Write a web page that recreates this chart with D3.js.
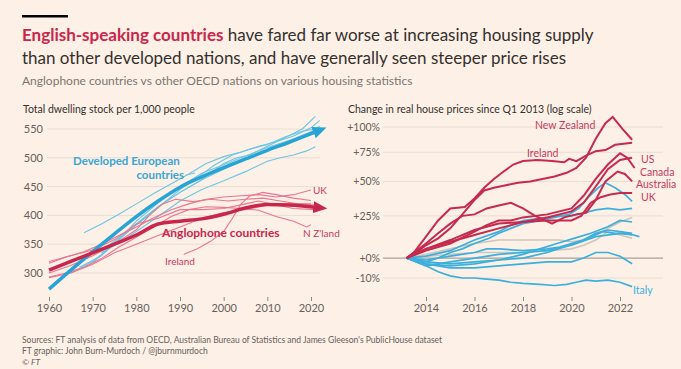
<!DOCTYPE html>
<html><head><meta charset="utf-8">
<script src="https://cdn.jsdelivr.net/npm/d3@7"></script>
<style>
html,body{margin:0;padding:0;background:#FDF0E6;}
svg{display:block;font-family:Lato,"Open Sans",sans-serif;}
</style></head>
<body><svg id="c" width="681" height="369"></svg>
<script>
// ---------- DATA ----------
const leftYTicks = [300, 350, 400, 450, 500, 550];
const leftXTicks = [1960, 1970, 1980, 1990, 2000, 2010, 2020];
const rightYTicks = [-10, 0, 25, 50, 75, 100];
const rightYTickLabels = ["-10%", "+0%", "+25%", "+50%", "+75%", "+100%"];
const rightXTicks = [2014, 2016, 2018, 2020, 2022];

// Left: dwelling stock per 1,000 people [year, value]
const europeTrend = [[1960,272],[1965,305],[1970,337],[1975,368],[1980,398],[1985,425],[1990,449],[1995,467],[2000,483],[2005,498],[2010,513],[2015,527],[2021,545]];
const anglTrend = [[1960,305],[1965,320],[1970,335],[1975,350],[1980,366],[1985,385],[1990,390],[1995,394],[2000,402],[2005,413],[2010,419],[2015,418],[2021,414]];
const europeCountries = [
  [[1968,370],[1972,385],[1976,402],[1980,420],[1984,438],[1988,455],[1992,472],[1996,490],[2000,502],[2004,510],[2008,520],[2012,528],[2016,538],[2020,552],[2022,565]],
  [[1965,300],[1970,320],[1975,350],[1980,385],[1985,415],[1990,440],[1995,462],[2000,490],[2003,500],[2006,505],[2010,520],[2014,535],[2018,550],[2021,572]],
  [[1972,335],[1976,352],[1980,372],[1985,398],[1990,425],[1995,445],[2000,460],[2005,476],[2010,494],[2013,500],[2016,505],[2019,512],[2021,519]],
  [[1970,318],[1975,352],[1980,385],[1985,415],[1990,440],[1995,462],[2000,480],[2005,497],[2010,513],[2015,527],[2020,540],[2022,548]],
  [[1974,350],[1978,372],[1982,395],[1986,420],[1990,445],[1994,466],[1998,488],[2002,505],[2006,515],[2010,523],[2014,536],[2018,546],[2021,550]],
  [[1967,310],[1972,330],[1976,358],[1980,390],[1985,422],[1990,450],[1995,473],[2000,488],[2005,503],[2010,518],[2015,530],[2020,545],[2022,555]]
];
const anglCountries = [
  [[1960,317],[1964,328],[1968,337],[1972,350],[1976,365],[1980,380],[1984,396],[1988,410],[1992,420],[1996,428],[2000,432],[2004,434],[2008,436],[2012,432],[2016,436],[2020,444]],
  [[1960,293],[1964,300],[1968,310],[1972,325],[1976,345],[1980,362],[1984,380],[1988,398],[1992,410],[1996,415],[2000,414],[2004,412],[2008,409],[2012,398],[2016,390],[2019,380],[2020,384]],
  [[1991,333],[1994,342],[1997,355],[2000,372],[2002,395],[2004,420],[2006,434],[2009,440],[2012,436],[2016,430],[2020,426]],
  [[1960,300],[1965,313],[1970,330],[1975,350],[1980,375],[1983,400],[1986,420],[1989,428],[1993,424],[1997,428],[2001,425],[2005,428],[2009,430],[2013,425],[2017,420],[2021,418]],
  [[1960,292],[1965,300],[1970,315],[1975,335],[1980,350],[1985,365],[1990,380],[1995,395],[2000,405],[2005,410],[2010,418],[2015,420],[2020,420]],
  [[1960,320],[1965,330],[1970,340],[1975,358],[1980,385],[1985,395],[1990,410],[1995,410],[2000,412],[2005,420],[2008,425],[2012,418],[2016,412],[2021,410]]
];

// Right: change in real house prices since Q1 2013, % [year, pct]
const newZealand = [[2013.2,0],[2013.6,3],[2014,7],[2014.5,11],[2015,17],[2015.5,26],[2016,36],[2016.4,43],[2016.8,45],[2017.3,47],[2017.8,49],[2018.3,50],[2018.8,52],[2019.3,54],[2019.8,57],[2020.2,61],[2020.6,70],[2021,88],[2021.4,104],[2021.7,111],[2022.1,98],[2022.5,87]];
const ireland = [[2013.2,0],[2013.5,3],[2014,12],[2014.5,22],[2015,30],[2015.6,31],[2016,37],[2016.4,45],[2016.8,52],[2017.2,58],[2017.6,64],[2018,67],[2018.6,68],[2019.2,67],[2019.7,66],[2019.9,69],[2020.2,67],[2020.6,72],[2021,76],[2021.4,77],[2021.8,82],[2022.5,84]];
const us = [[2013.2,0],[2014,5],[2015,9],[2016,13],[2017,17],[2018,21],[2019,24],[2020,28],[2020.5,34],[2021,46],[2021.5,60],[2022,68],[2022.5,70]];
const canada = [[2013.2,0],[2014,4],[2015,8],[2016,15],[2016.5,19],[2017,22],[2017.5,22],[2018,24],[2019,26],[2020,30],[2020.5,39],[2021,52],[2021.5,64],[2022,74],[2022.3,70],[2022.6,61]];
const australia = [[2013.2,0],[2014,8],[2014.5,14],[2015,20],[2015.5,25],[2016,26],[2016.5,30],[2017,32],[2017.5,34],[2018,30],[2018.5,25],[2019.2,20],[2019.7,24],[2020.2,26],[2020.6,27],[2021,36],[2021.4,50],[2021.9,58],[2022.2,56],[2022.5,50]];
const uk = [[2013.2,0],[2014,5],[2015,10],[2016,16],[2016.5,18],[2017,20],[2018,21],[2019,22],[2020,22],[2020.4,25],[2020.8,34],[2021.2,38],[2021.6,40],[2022,41],[2022.5,41]];
const europePrices = [
  [[2013.2,0],[2014,-2],[2014.5,0],[2015,3],[2015.5,5],[2016,8],[2016.6,11],[2017,14],[2017.5,17],[2018,20],[2018.7,22],[2019.3,24],[2019.9,26],[2020.3,30],[2020.7,38],[2021.1,45],[2021.4,49],[2021.8,45],[2022.2,40],[2022.5,35]],
  [[2013.2,0],[2014,1],[2015,4],[2016,10],[2017,15],[2017.5,19],[2018,22],[2019,24],[2019.5,25],[2020,25],[2020.5,27],[2021,29],[2021.5,30],[2022,29],[2022.5,30]],
  [[2013.2,0],[2014,-3],[2015,-4],[2016,-3],[2017,-1],[2018,2],[2018.7,5],[2019.4,8],[2020.1,11],[2020.8,14],[2021.5,18],[2022,22],[2022.5,21]],
  [[2013.2,0],[2014,-2],[2015,-3],[2016,-2],[2017,-1],[2018,0],[2019,3],[2019.7,6],[2020.3,9],[2020.8,12],[2021.3,15],[2021.8,14],[2022.3,14],[2022.8,12]],
  [[2013.2,0],[2014,-3],[2015,-5],[2016,-5],[2017,-4],[2018,-3],[2019,-2],[2020,-2],[2020.5,0],[2021,3],[2021.5,3],[2022,1],[2022.5,-3]],
  [[2013.2,0],[2014,-1],[2015,1],[2016,3],[2016.5,5],[2017,5],[2018,4],[2019,5],[2019.5,6],[2020,8],[2020.5,10],[2021,14],[2021.5,16],[2022,15],[2022.5,14]],
  [[2013.2,0],[2014,-4],[2015,-2],[2016,0],[2017,2],[2018,3],[2019,4],[2020,7],[2021,12],[2022,14],[2022.5,13]]
];
const italy = [[2013.2,0],[2013.6,-2],[2014,-4],[2014.5,-7],[2015,-9],[2015.5,-10],[2016,-10],[2016.5,-10.5],[2017,-11],[2017.5,-12],[2018,-12.5],[2018.7,-13],[2019.3,-13.5],[2019.8,-13],[2020.2,-12],[2020.6,-11],[2021,-11.5],[2021.5,-11],[2022,-12],[2022.5,-14]];
const otherPrices = [
  [[2013.2,0],[2014,2],[2015,5],[2016,8],[2016.5,9],[2017,10],[2018,10],[2019,10],[2019.5,10],[2020,9],[2020.5,10],[2021,13],[2021.5,17],[2022,21],[2022.5,24]],
  [[2013.2,0],[2014,1],[2015,2],[2016,3],[2017,3],[2018,3],[2019,4],[2020,5],[2020.5,7],[2021,10],[2021.5,15],[2022,13],[2022.5,11]]
];

// ---------- STYLE ----------
const C = {
  bg: "#FDF0E6", text: "#33302e", muted: "#66605c", grid: "#e8ddd3", zero: "#aaa29b",
  claret: "#c8264b", blueThick: "#27a4d6", blueThin: "#6cc6e6", redThin: "#e8768f",
  redLine: "#c52a4f", blueLine: "#3cb0dc", grayLine: "#cdc5be", redLabel: "#c73a5e"
};

const svg = d3.select("#c");
svg.append("rect").attr("width", 681).attr("height", 369).attr("fill", C.bg);

// header
svg.append("rect").attr("x", 22).attr("y", 15).attr("width", 46).attr("height", 2.5).attr("fill", "#000");
const t1 = svg.append("text").attr("x", 22).attr("y", 41).attr("font-size", 17).attr("fill", C.text);
t1.append("tspan").attr("font-weight", 700).attr("fill", C.claret).text("English-speaking countries");
t1.append("tspan").text(" have fared far worse at increasing housing supply");
svg.append("text").attr("x", 22).attr("y", 64).attr("font-size", 17).attr("fill", C.text)
  .text("than other developed nations, and have generally seen steeper price rises");
svg.append("text").attr("x", 22).attr("y", 85).attr("font-size", 12).attr("fill", "#7d7671")
  .text("Anglophone countries vs other OECD nations on various housing statistics");

// footer
const foot = ["Sources: FT analysis of data from OECD, Australian Bureau of Statistics and James Gleeson's PublicHouse dataset",
  "FT graphic: John Burn-Murdoch / @jburnmurdoch", "\u00A9 FT"];
foot.forEach((s, i) => svg.append("text").attr("x", 22).attr("y", 343 + i * 10.8)
  .attr("font-size", 8.5).attr("fill", C.muted).attr("font-style", i === 2 ? "italic" : null).text(s));

// ---------- LEFT CHART ----------
const xL = d3.scaleLinear().domain([1960, 2020]).range([49, 311]);
const yL = d3.scaleLinear().domain([300, 550]).range([273, 129]);
const gL = svg.append("g");
gL.append("text").attr("x", 23).attr("y", 113).attr("font-size", 10.5).attr("fill", C.text)
  .text("Total dwelling stock per 1,000 people");
gL.selectAll(".grid").data(leftYTicks).join("line")
  .attr("x1", 47).attr("x2", 320).attr("y1", d => yL(d)).attr("y2", d => yL(d))
  .attr("stroke", C.grid).attr("stroke-width", 1);
gL.selectAll(".yl").data(leftYTicks).join("text")
  .attr("x", 43).attr("y", d => yL(d) + 4).attr("text-anchor", "end")
  .attr("font-size", 11).attr("fill", C.muted).text(d => d);
const axL = d3.axisBottom(xL).tickValues(leftXTicks).tickFormat(d3.format("d")).tickSize(4).tickPadding(3);
const axLg = gL.append("g").attr("transform", "translate(0,297)").call(axL);
axLg.select(".domain").remove();
axLg.selectAll("line").attr("stroke", "#8f8882");
axLg.selectAll("text").attr("font-size", 11).attr("fill", C.muted).attr("font-family", "Lato");

const lineL = d3.line().x(d => xL(d[0])).y(d => yL(d[1]));
const smoothL = d3.line().x(d => xL(d[0])).y(d => yL(d[1])).curve(d3.curveMonotoneX);

const defs = svg.append("defs");
function marker(id, col) {
  defs.append("marker").attr("id", id).attr("markerUnits", "userSpaceOnUse")
    .attr("viewBox", "0 0 14 12").attr("refX", 2).attr("refY", 6)
    .attr("markerWidth", 14).attr("markerHeight", 12).attr("orient", "auto")
    .append("path").attr("d", "M0,0 L14,6 L0,12 Z").attr("fill", col);
}
marker("arrB", C.blueThick);
marker("arrR", C.claret);

gL.selectAll(".eu").data(europeCountries).join("path")
  .attr("d", lineL).attr("fill", "none").attr("stroke", C.blueThin).attr("stroke-width", 1.1);
gL.selectAll(".an").data(anglCountries).join("path")
  .attr("d", lineL).attr("fill", "none").attr("stroke", C.redThin).attr("stroke-width", 1.1);
gL.append("path").datum(europeTrend).attr("d", smoothL).attr("fill", "none")
  .attr("stroke", C.blueThick).attr("stroke-width", 3.5).attr("marker-end", "url(#arrB)");
gL.append("path").datum(anglTrend).attr("d", smoothL).attr("fill", "none")
  .attr("stroke", C.claret).attr("stroke-width", 3.5).attr("marker-end", "url(#arrR)");

// left labels
gL.append("text").attr("x", 73).attr("y", 165).attr("font-size", 11.5).attr("font-weight", 700)
  .attr("fill", "#3aa6d4").text("Developed European");
gL.append("text").attr("x", 184).attr("y", 179).attr("font-size", 11.5).attr("font-weight", 700)
  .attr("text-anchor", "end").attr("fill", "#3aa6d4").text("countries");
gL.append("line").attr("x1", 186).attr("y1", 175).attr("x2", 195).attr("y2", 173)
  .attr("stroke", C.blueThin).attr("stroke-width", 1);
gL.append("text").attr("x", 162).attr("y", 237).attr("font-size", 12).attr("font-weight", 700)
  .attr("fill", C.claret).text("Anglophone countries");
gL.append("text").attr("x", 165).attr("y", 265).attr("font-size", 10).attr("fill", C.redLabel).text("Ireland");
gL.append("line").attr("x1", 184).attr("y1", 255).attr("x2", xL(1991)).attr("y2", yL(333))
  .attr("stroke", C.redThin).attr("stroke-width", 1);
gL.append("text").attr("x", 303).attr("y", 237).attr("font-size", 10).attr("fill", C.redLabel).text("N Z'land");
gL.append("text").attr("x", 313).attr("y", 194).attr("font-size", 10).attr("fill", C.redLabel).text("UK");

// ---------- RIGHT CHART ----------
const xR = d3.scaleLinear().domain([2014, 2022]).range([426, 620]);
const yR = d3.scaleLog().domain([0.9, 2.0]).range([278, 127]);
const gR = svg.append("g");
gR.append("text").attr("x", 348).attr("y", 113).attr("font-size", 10.5).attr("fill", C.text)
  .text("Change in real house prices since Q1 2013 (log scale)");
gR.selectAll(".grid").data(rightYTicks).join("line")
  .attr("x1", 383).attr("x2", 663).attr("y1", d => yR(1 + d / 100)).attr("y2", d => yR(1 + d / 100))
  .attr("stroke", d => d === 0 ? C.zero : C.grid).attr("stroke-width", d => d === 0 ? 1.3 : 1);
gR.selectAll(".yl").data(rightYTicks).join("text")
  .attr("x", 380).attr("y", d => yR(1 + d / 100) + 4).attr("text-anchor", "end")
  .attr("font-size", 10.5).attr("fill", C.muted).text((d, i) => rightYTickLabels[i]);
const axR = d3.axisBottom(xR).tickValues(rightXTicks).tickFormat(d3.format("d")).tickSize(4).tickPadding(3);
const axRg = gR.append("g").attr("transform", "translate(0,297)").call(axR);
axRg.select(".domain").remove();
axRg.selectAll("line").attr("stroke", "#8f8882");
axRg.selectAll("text").attr("font-size", 11).attr("fill", C.muted).attr("font-family", "Lato");

const lineR = d3.line().x(d => xR(d[0])).y(d => yR(1 + d[1] / 100));
gR.selectAll(".oth").data(otherPrices).join("path").attr("d", lineR)
  .attr("fill", "none").attr("stroke", C.grayLine).attr("stroke-width", 1.6);
gR.selectAll(".eup").data(europePrices.concat([italy])).join("path").attr("d", lineR)
  .attr("fill", "none").attr("stroke", C.blueLine).attr("stroke-width", 1.7);
gR.selectAll(".anp").data([uk, australia, canada, us, ireland, newZealand]).join("path").attr("d", lineR)
  .attr("fill", "none").attr("stroke", C.redLine).attr("stroke-width", 2);

const rl = [["New Zealand", 535, 129], ["Ireland", 527, 157], ["US", 641, 163], ["Canada", 640, 176],
  ["Australia", 636, 188], ["UK", 641, 201]];
rl.forEach(r => gR.append("text").attr("x", r[1]).attr("y", r[2]).attr("font-size", 10.5)
  .attr("fill", C.redLabel).text(r[0]));
gR.append("text").attr("x", 633).attr("y", 294).attr("font-size", 10.5).attr("fill", C.blueLine).text("Italy");
</script></body></html>
